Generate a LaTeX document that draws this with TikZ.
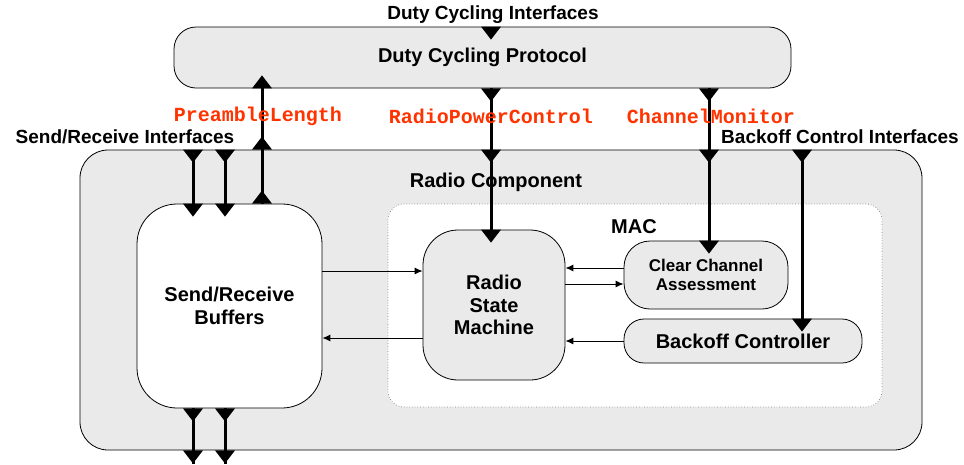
\documentclass[tikz,border=0pt]{standalone}
\usepackage{fontspec}
\setmainfont{Liberation Sans}
\setmonofont{Liberation Mono}
\usepackage{tikz}
\usetikzlibrary{arrows.meta}
\definecolor{boxgray}{HTML}{EAEAEA}
\definecolor{ifred}{HTML}{FF3300}

\begin{document}
\begin{tikzpicture}[
        x=1pt, y=-1pt,
        every node/.style={font=\bfseries\fontsize{20}{22.5}\selectfont, align=center, inner sep=0pt},
        block/.style={draw, line width=0.8pt, fill=boxgray},
        grouplabel/.style={font=\bfseries\fontsize{19}{21}\selectfont},
        iface/.style={text=ifred, font=\ttfamily\bfseries\fontsize{20}{22}\selectfont},
        bus/.style={line width=3pt},
        flow/.style={-{Latex[length=8pt,width=7pt]}, line width=1pt},
        portdn/.pic={\fill (-10,0) -- (10,0) -- (0,13) -- cycle;},
        portup/.pic={\fill (-10,0) -- (10,0) -- (0,-13) -- cycle;}
        ]
        \useasboundingbox (0,0) rectangle (964,464);

        % Boxes
        \node[block, minimum width=617pt, minimum height=61pt, rounded corners=22pt] (dcp) at (482.5,57.5) {Duty Cycling Protocol};
        \node[block, minimum width=842pt, minimum height=300pt, rounded corners=28pt] (rc) at (501,300) {};
        \node[draw=gray, dotted, line width=0.7pt, fill=white, minimum width=494pt, minimum height=203pt, rounded corners=16pt] (mac) at (635,305.5) {};
        \node[block, fill=white, minimum width=185pt, minimum height=204pt, rounded corners=40pt] (bufs) at (229.5,306) {Send/Receive\\Buffers};
        \node[block, minimum width=142pt, minimum height=150pt, rounded corners=35pt] (rsm) at (494,305) {Radio\\State\\Machine};
        \node[block, minimum width=164pt, minimum height=68pt, rounded corners=26pt, font=\bfseries\fontsize{17}{18.5}\selectfont] (cca) at (706,275) {Clear Channel\\Assessment};
        \node[block, minimum width=238pt, minimum height=44pt, rounded corners=20pt] (boc) at (743,341) {Backoff Controller};

        % Labels
        \node[grouplabel] (dcitf) at (493,15) {Duty Cycling Interfaces};
        \node (rclbl) at (496,182) {Radio Component};
        \node (maclbl) at (634,227) {MAC};
        \node[grouplabel] (sritf) at (125,137) {Send/Receive Interfaces};
        \node[grouplabel] (boitf) at (840,137) {Backoff Control Interfaces};

        % Interface columns
        \coordinate (sr1) at (193,0);
        \coordinate (sr2) at (225,0);
        \coordinate (pl) at (262,0);
        \coordinate (rpc) at (491,0);
        \coordinate (cm) at (709,0);
        \coordinate (bo) at (802,0);
        \coordinate (bot) at (0,464);

        % Interface wires
        \foreach \c in {sr1,sr2} {
          \draw[bus] (rc.north -| \c) -- (bufs.north -| \c);
          \draw[bus] (bufs.south -| \c) -- (bot -| \c);
          \pic at (rc.north -| \c) {portdn};
          \pic at (bufs.north -| \c) {portdn};
          \pic at (bufs.south -| \c) {portdn};
          \pic at (rc.south -| \c) {portdn};
        }
        \draw[bus] (bufs.north -| pl) -- (dcp.south -| pl);
        \pic at (bufs.north -| pl) {portup};
        \pic at (rc.north -| pl) {portup};
        \pic at (dcp.south -| pl) {portup};

        \draw[bus] (dcp.south -| rpc) -- (rsm.north -| rpc);
        \pic at (dcp.north -| rpc) {portdn};
        \pic at (dcp.south -| rpc) {portdn};
        \pic at (rc.north -| rpc) {portdn};
        \pic at (rsm.north -| rpc) {portdn};

        \draw[bus] (dcp.south -| cm) -- (cca.north -| cm);
        \pic at (dcp.south -| cm) {portdn};
        \pic at (rc.north -| cm) {portdn};
        \pic at (cca.north -| cm) {portdn};

        \draw[bus] (rc.north -| bo) -- (boc.north -| bo);
        \pic at (rc.north -| bo) {portdn};
        \pic at (boc.north -| bo) {portdn};

        % Interface names
        \node[iface] (plname) at (258,116) {PreambleLength};
        \node[iface] (rpcname) at (491,116) {RadioPowerControl};
        \node[iface] (cmname) at (711,116) {ChannelMonitor};

        % Arrows
        \draw[flow] (bufs.east |- 0,271) -- (rsm.west |- 0,271);
        \draw[flow] (rsm.west |- 0,338) -- (bufs.east |- 0,338);
        \draw[flow] (cca.west |- 0,268) -- (rsm.east |- 0,268);
        \draw[flow] (rsm.east |- 0,284) -- (cca.west |- 0,284);
        \draw[flow] (boc.west |- 0,341) -- (rsm.east |- 0,341);

\end{tikzpicture}
\end{document}
